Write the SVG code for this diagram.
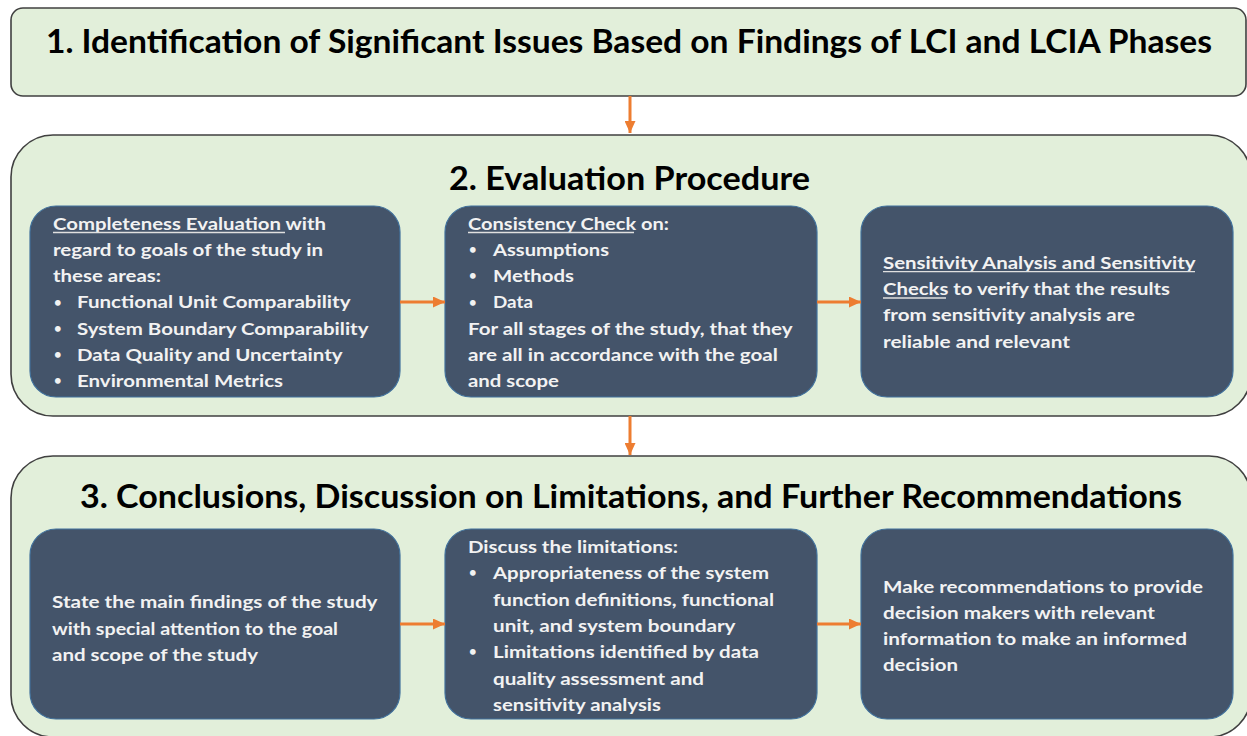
<svg xmlns="http://www.w3.org/2000/svg" width="1247" height="736" viewBox="0 0 1247 736">
<style>
.outer{fill:#E2EFDA;stroke:#404040;stroke-width:1.6}
.inner{fill:#44546A;stroke:#41719C;stroke-width:1.2}
.title{font-family:Lato,"Liberation Sans",sans-serif;font-weight:bold;font-size:33px;fill:#000}
.body{font-family:Lato,"Liberation Sans",sans-serif;font-weight:bold;font-size:17.5px;fill:#F2F2F2}
.b{font-size:13px}
.ul{stroke:#E0E0E0;stroke-width:1.3}
.conn{stroke:#ED7D31;stroke-width:3;fill:none}
</style>
<defs>
<marker id="ah" markerUnits="userSpaceOnUse" markerWidth="12" markerHeight="11" refX="12" refY="5.5" orient="auto">
<path d="M0,0 L12,5.5 L0,11 z" fill="#ED7D31"/>
</marker>
</defs>
<rect width="1247" height="736" fill="#FFFFFF"/>

<g id="stage1">
<rect class="outer" x="11" y="8" width="1235" height="88" rx="12"/>
<text class="title" x="46" y="53" textLength="1166" lengthAdjust="spacingAndGlyphs">1. Identification of Significant Issues Based on Findings of LCI and LCIA Phases</text>
</g>

<g id="stage2">
<rect class="outer" x="11" y="135" width="1240" height="281" rx="42"/>
<text class="title" x="449" y="190" textLength="361" lengthAdjust="spacingAndGlyphs">2. Evaluation Procedure</text>
</g>

<g id="stage3">
<rect class="outer" x="11" y="456" width="1240" height="281" rx="42"/>
<text class="title" x="80" y="508" textLength="1102" lengthAdjust="spacingAndGlyphs">3. Conclusions, Discussion on Limitations, and Further Recommendations</text>
</g>

<g id="completeness">
<rect class="inner" x="30" y="206" width="370" height="191" rx="26"/>
<text class="body">
<tspan x="53" y="229.5" textLength="273" lengthAdjust="spacingAndGlyphs">Completeness Evaluation with</tspan>
<tspan x="53" y="255.8" textLength="270" lengthAdjust="spacingAndGlyphs">regard to goals of the study in</tspan>
<tspan x="53" y="282" textLength="108" lengthAdjust="spacingAndGlyphs">these areas:</tspan>
</text>
<line class="ul" x1="53" y1="232.5" x2="285" y2="232.5"/>
<text class="body">
<tspan class="b" x="54" y="306.5">•</tspan><tspan x="77" y="308.4" textLength="273" lengthAdjust="spacingAndGlyphs">Functional Unit Comparability</tspan>
<tspan class="b" x="54" y="332.8">•</tspan><tspan x="77" y="334.7" textLength="291" lengthAdjust="spacingAndGlyphs">System Boundary Comparability</tspan>
<tspan class="b" x="54" y="359.1">•</tspan><tspan x="77" y="361" textLength="265" lengthAdjust="spacingAndGlyphs">Data Quality and Uncertainty</tspan>
<tspan class="b" x="54" y="385.4">•</tspan><tspan x="77" y="387.3" textLength="206" lengthAdjust="spacingAndGlyphs">Environmental Metrics</tspan>
</text>
</g>

<g id="consistency">
<rect class="inner" x="445" y="206" width="372" height="191" rx="26"/>
<text class="body">
<tspan x="468" y="229.5" textLength="201" lengthAdjust="spacingAndGlyphs">Consistency Check on:</tspan>
<tspan class="b" x="469" y="253.9">•</tspan><tspan x="493" y="255.8" textLength="116" lengthAdjust="spacingAndGlyphs">Assumptions</tspan>
<tspan class="b" x="469" y="280.1">•</tspan><tspan x="493" y="282" textLength="81" lengthAdjust="spacingAndGlyphs">Methods</tspan>
<tspan class="b" x="469" y="306.5">•</tspan><tspan x="493" y="308.4" textLength="40" lengthAdjust="spacingAndGlyphs">Data</tspan>
<tspan x="468" y="334.7" textLength="324" lengthAdjust="spacingAndGlyphs">For all stages of the study, that they</tspan>
<tspan x="468" y="361" textLength="310" lengthAdjust="spacingAndGlyphs">are all in accordance with the goal</tspan>
<tspan x="468" y="387.3" textLength="91" lengthAdjust="spacingAndGlyphs">and scope</tspan>
</text>
<line class="ul" x1="468" y1="232.5" x2="634" y2="232.5"/>
</g>

<g id="sensitivity">
<rect class="inner" x="861" y="206" width="372" height="191" rx="26"/>
<text class="body">
<tspan x="883" y="268.7" textLength="312" lengthAdjust="spacingAndGlyphs">Sensitivity Analysis and Sensitivity</tspan>
<tspan x="883" y="295" textLength="287" lengthAdjust="spacingAndGlyphs">Checks to verify that the results</tspan>
<tspan x="883" y="321.3" textLength="252" lengthAdjust="spacingAndGlyphs">from sensitivity analysis are</tspan>
<tspan x="883" y="347.6" textLength="187" lengthAdjust="spacingAndGlyphs">reliable and relevant</tspan>
</text>
<line class="ul" x1="883" y1="271.7" x2="1195" y2="271.7"/>
<line class="ul" x1="883" y1="298" x2="946" y2="298"/>
</g>

<g id="findings">
<rect class="inner" x="30" y="529" width="370" height="190" rx="26"/>
<text class="body">
<tspan x="52" y="608" textLength="325" lengthAdjust="spacingAndGlyphs">State the main findings of the study</tspan>
<tspan x="52" y="634.5" textLength="286" lengthAdjust="spacingAndGlyphs">with special attention to the goal</tspan>
<tspan x="52" y="661" textLength="206" lengthAdjust="spacingAndGlyphs">and scope of the study</tspan>
</text>
</g>

<g id="limitations">
<rect class="inner" x="445" y="529" width="372" height="190" rx="26"/>
<text class="body">
<tspan x="468" y="553" textLength="210" lengthAdjust="spacingAndGlyphs">Discuss the limitations:</tspan>
<tspan class="b" x="469" y="577.4">•</tspan><tspan x="493" y="579.3" textLength="276" lengthAdjust="spacingAndGlyphs">Appropriateness of the system</tspan>
<tspan x="493" y="605.6" textLength="281" lengthAdjust="spacingAndGlyphs">function definitions, functional</tspan>
<tspan x="493" y="631.9" textLength="242" lengthAdjust="spacingAndGlyphs">unit, and system boundary</tspan>
<tspan class="b" x="469" y="656.3">•</tspan><tspan x="493" y="658.2" textLength="266" lengthAdjust="spacingAndGlyphs">Limitations identified by data</tspan>
<tspan x="493" y="684.5" textLength="211" lengthAdjust="spacingAndGlyphs">quality assessment and</tspan>
<tspan x="493" y="710.8" textLength="168" lengthAdjust="spacingAndGlyphs">sensitivity analysis</tspan>
</text>
</g>

<g id="recommendations">
<rect class="inner" x="861" y="529" width="372" height="190" rx="26"/>
<text class="body">
<tspan x="883" y="593" textLength="320" lengthAdjust="spacingAndGlyphs">Make recommendations to provide</tspan>
<tspan x="883" y="619" textLength="272" lengthAdjust="spacingAndGlyphs">decision makers with relevant</tspan>
<tspan x="883" y="645" textLength="304" lengthAdjust="spacingAndGlyphs">information to make an informed</tspan>
<tspan x="883" y="671" textLength="75" lengthAdjust="spacingAndGlyphs">decision</tspan>
</text>
</g>

<g id="connectors">
<line class="conn" x1="630" y1="96" x2="630" y2="133" marker-end="url(#ah)"/>
<line class="conn" x1="630" y1="416" x2="630" y2="455" marker-end="url(#ah)"/>
<line class="conn" x1="400" y1="302" x2="445" y2="302" marker-end="url(#ah)"/>
<line class="conn" x1="817" y1="302" x2="861" y2="302" marker-end="url(#ah)"/>
<line class="conn" x1="400" y1="624" x2="445" y2="624" marker-end="url(#ah)"/>
<line class="conn" x1="817" y1="624" x2="861" y2="624" marker-end="url(#ah)"/>
</g>
</svg>
